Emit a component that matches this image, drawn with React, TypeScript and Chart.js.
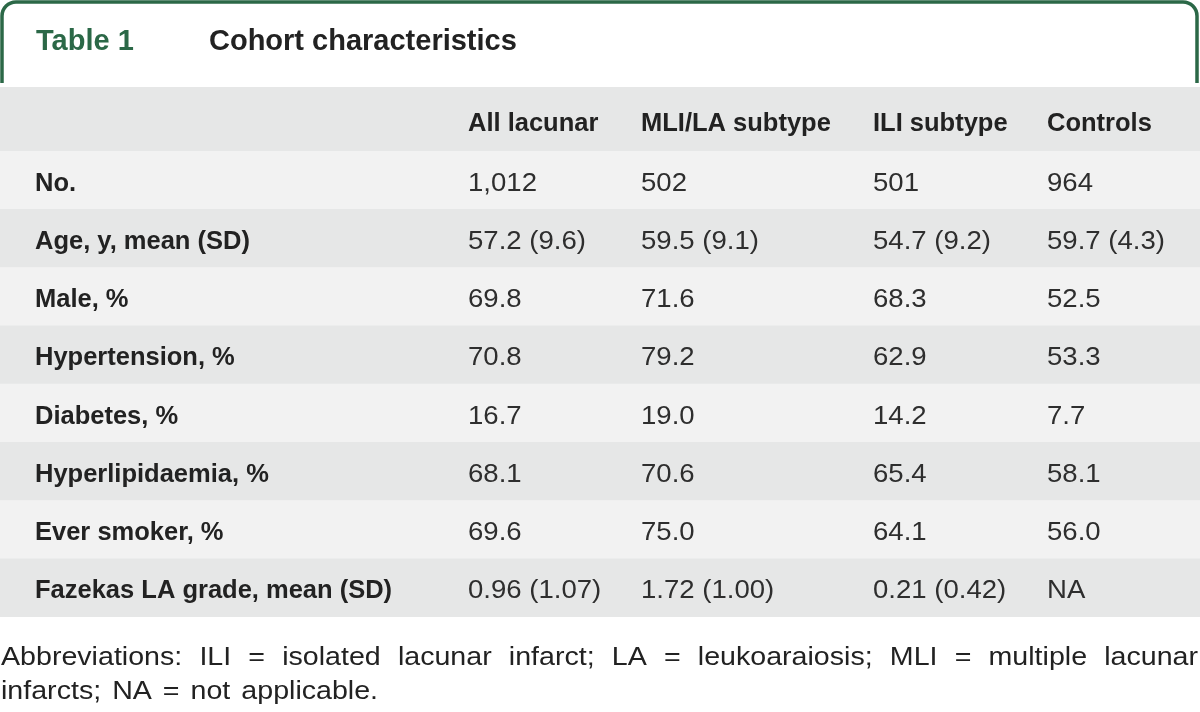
import React, { useEffect, useRef } from "react";
import { Chart, registerables } from "chart.js";

Chart.register(...registerables);

// ---- Data ----
const tableNumber = "Table 1";
const tableTitle = "Cohort characteristics";
const columnHeaders = ["All lacunar", "MLI/LA subtype", "ILI subtype", "Controls"];
const rowLabels = [
  "No.",
  "Age, y, mean (SD)",
  "Male, %",
  "Hypertension, %",
  "Diabetes, %",
  "Hyperlipidaemia, %",
  "Ever smoker, %",
  "Fazekas LA grade, mean (SD)",
];
const allLacunar = ["1,012", "57.2 (9.6)", "69.8", "70.8", "16.7", "68.1", "69.6", "0.96 (1.07)"];
const mliLaSubtype = ["502", "59.5 (9.1)", "71.6", "79.2", "19.0", "70.6", "75.0", "1.72 (1.00)"];
const iliSubtype = ["501", "54.7 (9.2)", "68.3", "62.9", "14.2", "65.4", "64.1", "0.21 (0.42)"];
const controls = ["964", "59.7 (4.3)", "52.5", "53.3", "7.7", "58.1", "56.0", "NA"];
const footnoteLines = [
  "Abbreviations: ILI = isolated lacunar infarct; LA = leukoaraiosis; MLI = multiple lacunar",
  "infarcts; NA = not applicable.",
];

// ---- Layout / style (not data) ----
const W = 1200;
const H = 712;
const FONT = "'Liberation Sans', Arial, Helvetica, sans-serif";
const GREEN = "#2b6847";
const DARK = "#222222";
const VALUE = "#2e2e2e";
const GRAY = "#e6e7e7";
const LIGHT = "#f2f2f2";
const HEADER_TOP = 87;
const TABLE_TOP = 151;
const TABLE_BOTTOM = 617;
const LABEL_X = 35;
const COLUMN_X = [468, 641, 873, 1047];
const VALUE_STRETCH = 1.06;
const NOTE_STRETCH = 1.1;

function drawStretched(ctx: CanvasRenderingContext2D, text: string, x: number, y: number, sx: number) {
  ctx.save();
  ctx.translate(x, y);
  ctx.scale(sx, 1);
  ctx.fillText(text, 0, 0);
  ctx.restore();
}

function drawJustified(ctx: CanvasRenderingContext2D, text: string, x0: number, x1: number, y: number, sx: number) {
  const words = text.split(" ");
  const widths = words.map((w) => ctx.measureText(w).width * sx);
  const total = widths.reduce((a, b) => a + b, 0);
  const gap = words.length > 1 ? (x1 - x0 - total) / (words.length - 1) : 0;
  let x = x0;
  words.forEach((w, i) => {
    drawStretched(ctx, w, x, y, sx);
    x += widths[i] + gap;
  });
}

function drawSpaced(ctx: CanvasRenderingContext2D, text: string, x0: number, y: number, sx: number, space: number) {
  const words = text.split(" ");
  let x = x0;
  words.forEach((w) => {
    drawStretched(ctx, w, x, y, sx);
    x += ctx.measureText(w).width * sx + space;
  });
}

const tablePlugin = {
  id: "tablePlugin",
  afterDraw(chart: any) {
    const ctx: CanvasRenderingContext2D = chart.ctx;
    const yScale = chart.scales.y;
    const columns = [allLacunar, mliLaSubtype, iliSubtype, controls];
    ctx.save();

    // Title tab outline
    const r = 14;
    const l = 2, t = 2, rr = 1197, b = 83;
    ctx.strokeStyle = GREEN;
    ctx.lineWidth = 3.5;
    ctx.beginPath();
    ctx.moveTo(l, b);
    ctx.lineTo(l, t + r);
    ctx.arcTo(l, t, l + r, t, r);
    ctx.lineTo(rr - r, t);
    ctx.arcTo(rr, t, rr, t + r, r);
    ctx.lineTo(rr, b);
    ctx.stroke();

    // Title
    ctx.textBaseline = "alphabetic";
    ctx.textAlign = "left";
    ctx.font = `bold 29px ${FONT}`;
    ctx.fillStyle = GREEN;
    ctx.fillText(tableNumber, 36, 50);
    ctx.fillStyle = DARK;
    ctx.fillText(tableTitle, 209, 50);

    // Header band
    ctx.fillStyle = GRAY;
    ctx.fillRect(0, HEADER_TOP, W, chart.chartArea.top - HEADER_TOP);
    ctx.font = `bold 25.5px ${FONT}`;
    ctx.fillStyle = DARK;
    columnHeaders.forEach((h, j) => ctx.fillText(h, COLUMN_X[j], 131));

    // Rows
    rowLabels.forEach((label, i) => {
      const yc = yScale.getPixelForValue(i);
      const base = yc + 10.5;
      ctx.font = `bold 25.5px ${FONT}`;
      ctx.fillStyle = DARK;
      ctx.fillText(label, LABEL_X, base);
      ctx.font = `26px ${FONT}`;
      ctx.fillStyle = VALUE;
      columns.forEach((col, j) => drawStretched(ctx, col[i], COLUMN_X[j], base, VALUE_STRETCH));
    });

    // Footnote
    ctx.font = `26px ${FONT}`;
    ctx.fillStyle = DARK;
    drawJustified(ctx, footnoteLines[0], 1, 1198, 665, NOTE_STRETCH);
    drawSpaced(ctx, footnoteLines[1], 1, 699, NOTE_STRETCH, 11);

    ctx.restore();
  },
};

export default function App() {
  const ref = useRef<HTMLCanvasElement | null>(null);

  useEffect(() => {
    if (!ref.current) return;
    const chart = new Chart(ref.current, {
      type: "bar",
      data: {
        labels: rowLabels,
        datasets: [
          {
            data: rowLabels.map(() => 1),
            backgroundColor: rowLabels.map((_, i) => (i % 2 === 0 ? LIGHT : GRAY)),
            borderWidth: 0,
            barPercentage: 1,
            categoryPercentage: 1,
          },
        ],
      },
      options: {
        indexAxis: "y",
        responsive: false,
        animation: false,
        devicePixelRatio: 1,
        layout: { padding: { top: TABLE_TOP, bottom: H - TABLE_BOTTOM, left: 0, right: 0 } },
        scales: {
          x: { type: "linear", min: 0, max: 1, display: false },
          y: { type: "category", display: false, offset: true },
        },
        plugins: {
          legend: { display: false },
          tooltip: { enabled: false },
          title: { display: false },
        },
      },
      plugins: [tablePlugin],
    } as any);
    return () => chart.destroy();
  }, []);

  return (
    <div style={{ position: "absolute", left: 0, top: 0, width: W, height: H, background: "#fff" }}>
      <canvas ref={ref} width={W} height={H} style={{ display: "block", width: W, height: H }} />
    </div>
  );
}
